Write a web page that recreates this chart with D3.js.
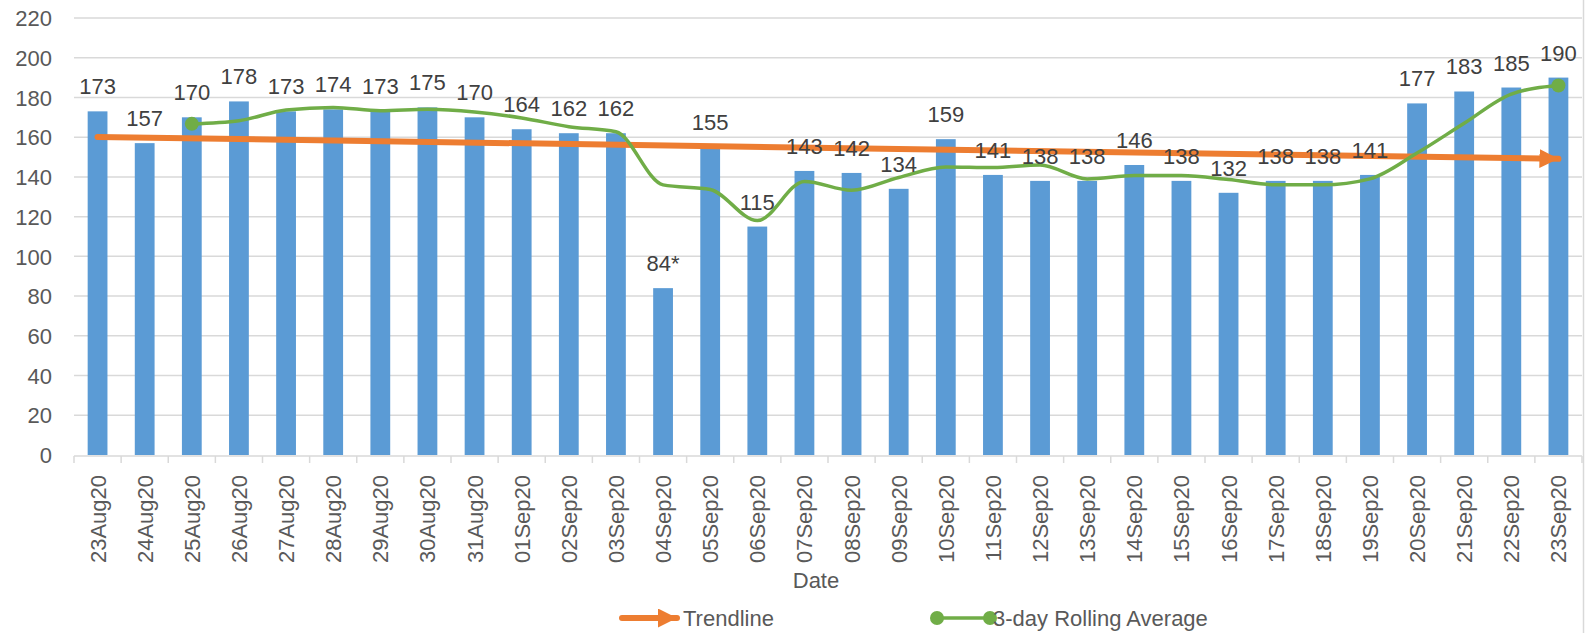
<!DOCTYPE html>
<html>
<head>
<meta charset="utf-8">
<script src="https://cdn.jsdelivr.net/npm/d3@7"></script>
<style>
  html, body { margin: 0; padding: 0; background: #fff; }
  svg { display: block; font-family: "Liberation Sans", Arial, sans-serif; }
</style>
</head>
<body>
<div id="chart"></div>
<script>
// dados
const dates = ["23Aug20","24Aug20","25Aug20","26Aug20","27Aug20","28Aug20","29Aug20","30Aug20","31Aug20",
  "01Sep20","02Sep20","03Sep20","04Sep20","05Sep20","06Sep20","07Sep20","08Sep20","09Sep20","10Sep20",
  "11Sep20","12Sep20","13Sep20","14Sep20","15Sep20","16Sep20","17Sep20","18Sep20","19Sep20","20Sep20",
  "21Sep20","22Sep20","23Sep20"];
const counts = [173,157,170,178,173,174,173,175,170,164,162,162,84,155,115,143,142,134,159,141,138,138,146,138,132,138,138,141,177,183,185,190];
const countLabels = counts.map((v, i) => dates[i] === "04Sep20" ? v + "*" : String(v));
// média móvel de 3 dias (começa em 25Aug20)
const rollingDates = dates.slice(2);
const rollingAvg = [166.7,168.3,173.7,175,173.3,174,172.7,169.7,165.3,162.7,136,133.7,118,137.7,133.3,139.7,145,144.7,146,139,140.7,140.7,138.7,136,136,139,152,167,181.7,186];
// linha de tendência (início e fim)
const trendDates = [dates[0], dates[dates.length - 1]];
const trendValues = [160.1, 149.1];
const yTicks = [0,20,40,60,80,100,120,140,160,180,200,220];

const width = 1587, height = 633;
const plotLeft = 74, plotRight = 1582, plotTop = 18, plotBottom = 455;

const svg = d3.select("#chart").append("svg")
  .attr("width", width).attr("height", height);

const x = d3.scaleBand().domain(dates).range([plotLeft, plotRight]).paddingInner(0.58).paddingOuter(0.29);
const y = d3.scaleLinear().domain([0, 220]).range([plotBottom, plotTop]);
const cx = d => x(d) + x.bandwidth() / 2;

// grade
svg.append("g").selectAll("line").data(yTicks.filter(t => t > 0)).join("line")
  .attr("x1", plotLeft).attr("x2", plotRight)
  .attr("y1", d => y(d)).attr("y2", d => y(d))
  .attr("stroke", "#d9d9d9").attr("stroke-width", 1.5);

// borda direita
svg.append("line").attr("x1", 1583.5).attr("x2", 1583.5).attr("y1", 0).attr("y2", height)
  .attr("stroke", "#d9d9d9").attr("stroke-width", 1.5);

// eixo y
const yAxis = svg.append("g").attr("transform", `translate(${plotLeft - 22},0)`)
  .call(d3.axisLeft(y).tickValues(yTicks).tickSize(0).tickPadding(0));
yAxis.select(".domain").remove();
yAxis.selectAll("text").attr("fill", "#595959").style("font-size", "22px").attr("dy", "0.35em");

// barras
svg.append("g").selectAll("rect").data(counts).join("rect")
  .attr("x", (d, i) => x(dates[i]))
  .attr("y", d => y(d))
  .attr("width", x.bandwidth())
  .attr("height", d => y(0) - y(d))
  .attr("fill", "#5b9bd5");

// eixo x
const bandStep = x.step();
svg.append("line").attr("x1", plotLeft).attr("x2", plotRight).attr("y1", plotBottom + 1).attr("y2", plotBottom + 1)
  .attr("stroke", "#d9d9d9").attr("stroke-width", 1.5);
svg.append("g").selectAll("line").data(d3.range(dates.length + 1)).join("line")
  .attr("x1", i => plotLeft + i * bandStep).attr("x2", i => plotLeft + i * bandStep)
  .attr("y1", plotBottom + 1).attr("y2", plotBottom + 8)
  .attr("stroke", "#d9d9d9").attr("stroke-width", 1.5);
svg.append("g").selectAll("text").data(dates).join("text")
  .attr("transform", d => `translate(${cx(d) + 8},${plotBottom + 20}) rotate(-90)`)
  .attr("text-anchor", "end")
  .attr("fill", "#595959").style("font-size", "22px")
  .text(d => d);

// título do eixo x
svg.append("text").attr("x", 816).attr("y", 588).attr("text-anchor", "middle")
  .attr("fill", "#595959").style("font-size", "22px").text("Date");

// linha de tendência com seta
const orange = "#ed7d31";
svg.append("defs").append("marker")
  .attr("id", "arrow").attr("viewBox", "0 0 10 10")
  .attr("refX", 10).attr("refY", 5)
  .attr("markerUnits", "userSpaceOnUse")
  .attr("markerWidth", 19).attr("markerHeight", 19)
  .attr("orient", "auto")
  .append("path").attr("d", "M0,0 L10,5 L0,10 Z").attr("fill", orange);

svg.append("line")
  .attr("x1", cx(trendDates[0])).attr("y1", y(trendValues[0]))
  .attr("x2", cx(trendDates[1])).attr("y2", y(trendValues[1]))
  .attr("stroke", orange).attr("stroke-width", 6).attr("stroke-linecap", "round")
  .attr("marker-end", "url(#arrow)");

// média móvel
const green = "#70ad47";
const line = d3.line().x(d => cx(d[0])).y(d => y(d[1])).curve(d3.curveMonotoneX);
const rollPts = rollingDates.map((d, i) => [d, rollingAvg[i]]);
svg.append("path").datum(rollPts)
  .attr("d", line).attr("fill", "none")
  .attr("stroke", green).attr("stroke-width", 3.5);
svg.append("g").selectAll("circle").data([rollPts[0], rollPts[rollPts.length - 1]]).join("circle")
  .attr("cx", d => cx(d[0])).attr("cy", d => y(d[1])).attr("r", 7).attr("fill", green);

// rótulos dos valores
svg.append("g").selectAll("text").data(counts).join("text")
  .attr("x", (d, i) => cx(dates[i]))
  .attr("y", d => y(d) - 17)
  .attr("text-anchor", "middle")
  .attr("fill", "#404040").style("font-size", "22px")
  .text((d, i) => countLabels[i]);

// legenda
const legY = 618;
svg.append("line").attr("x1", 622).attr("x2", 677).attr("y1", legY).attr("y2", legY)
  .attr("stroke", orange).attr("stroke-width", 6).attr("stroke-linecap", "round")
  .attr("marker-end", "url(#arrow)");
svg.append("text").attr("x", 683).attr("y", legY + 8).attr("fill", "#595959")
  .style("font-size", "22px").text("Trendline");

svg.append("line").attr("x1", 937).attr("x2", 990).attr("y1", legY).attr("y2", legY)
  .attr("stroke", green).attr("stroke-width", 3.5);
svg.append("g").selectAll("circle").data([937, 990]).join("circle")
  .attr("cx", d => d).attr("cy", legY).attr("r", 7).attr("fill", green);
svg.append("text").attr("x", 993).attr("y", legY + 8).attr("fill", "#595959")
  .style("font-size", "22px").text("3-day Rolling Average");
</script>
</body>
</html>
